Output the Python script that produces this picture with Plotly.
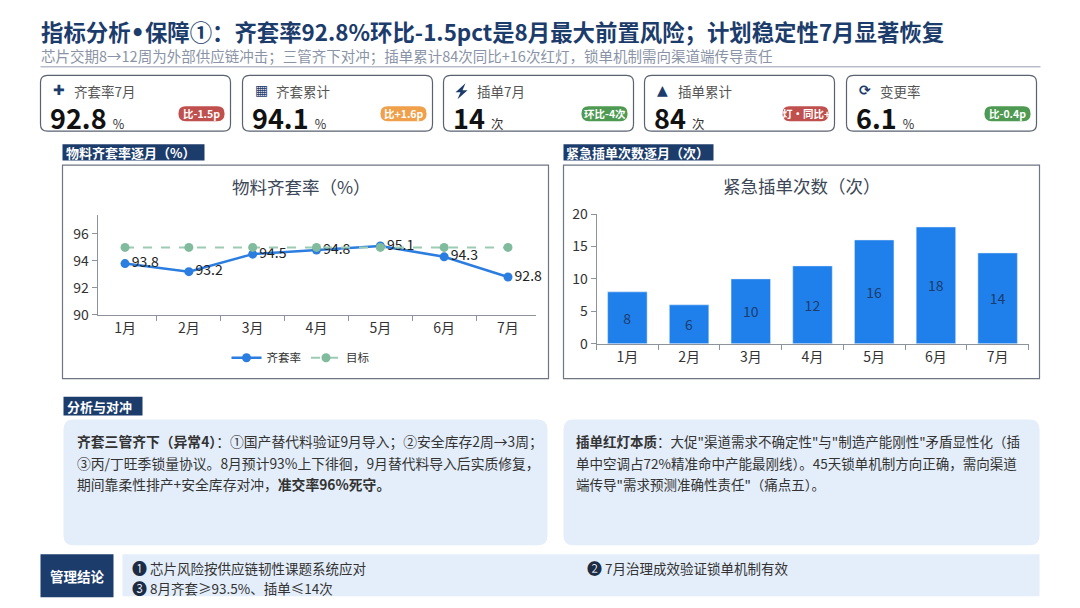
import plotly.graph_objects as go

W, H = 1080, 608

months = ["1月", "2月", "3月", "4月", "5月", "6月", "7月"]
kitting_rate = [93.8, 93.2, 94.5, 94.8, 95.1, 94.3, 92.8]
kitting_target = [95, 95, 95, 95, 95, 95, 95]
rush_orders = [8, 6, 10, 12, 16, 18, 14]

kpi_labels = ["齐套率7月", "齐套累计", "插单7月", "插单累计", "变更率"]
kpi_values = ["92.8", "94.1", "14", "84", "6.1"]
kpi_units = ["%", "%", "次", "次", "%"]
kpi_badges = ["比-1.5p", "比+1.6p", "环比-4次", "灯•同比+", "比-0.4p"]
kpi_icons = ["✚", "▦", "", "▲", "⟳"]

left_note = [
    "<b>齐套三管齐下（异常4）</b>：①国产替代料验证9月导入；②安全库存2周→3周；",
    "③丙/丁旺季锁量协议。8月预计93%上下徘徊，9月替代料导入后实质修复，",
    "期间靠柔性排产+安全库存对冲，<b>准交率96%死守。</b>",
]
right_note = [
    "<b>插单红灯本质</b>：大促\"渠道需求不确定性\"与\"制造产能刚性\"矛盾显性化（插",
    "单中空调占72%精准命中产能最刚线）。45天锁单机制方向正确，需向渠道",
    "端传导\"需求预测准确性责任\"（痛点五）。",
]

NAVY = "#1c3c6c"
FONT = "Noto Sans CJK SC"
badge_colors = ["#c0504d", "#f0a04b", "#4e9a52", "#c0504d", "#4e9a52"]


# pixel positions below are where things should land in the photo;
# the page is photographed a bit shifted, so map them back here
def px(x):
    return min(max((x - 7.5) / W, 0), 1)


def py(y):
    return min(max(1 - (y - 17.6) / 0.969 / H, 0), 1)


def poly(points):
    s = "M " + " L ".join(f"{px(x)},{py(y)}" for x, y in points) + " Z"
    return s


def rrect(x0, y0, x1, y1, r):
    pts = [
        f"M {px(x0 + r)},{py(y0)}",
        f"L {px(x1 - r)},{py(y0)}",
        f"Q {px(x1)},{py(y0)} {px(x1)},{py(y0 + r)}",
        f"L {px(x1)},{py(y1 - r)}",
        f"Q {px(x1)},{py(y1)} {px(x1 - r)},{py(y1)}",
        f"L {px(x0 + r)},{py(y1)}",
        f"Q {px(x0)},{py(y1)} {px(x0)},{py(y1 - r)}",
        f"L {px(x0)},{py(y0 + r)}",
        f"Q {px(x0)},{py(y0)} {px(x0 + r)},{py(y0)}",
        "Z",
    ]
    return " ".join(pts)


shapes = []
annos = []


def text(x, y, s, size=13, color="#333", xanchor="left", bold=False, family=FONT):
    if bold:
        s = f"<b>{s}</b>"
    annos.append(dict(x=px(x), y=py(y), xref="paper", yref="paper", text=s,
                      showarrow=False, xanchor=xanchor, yanchor="middle", align="left",
                      font=dict(size=size, color=color, family=family)))


def rect(x0, y0, x1, y1, fill, line=None, lw=1, r=0):
    ln = dict(color=line or fill, width=lw if line else 0)
    if r:
        shapes.append(dict(type="path", path=rrect(x0, y0, x1, y1, r), xref="paper", yref="paper",
                           fillcolor=fill, line=ln, layer="below"))
    else:
        shapes.append(dict(type="rect", x0=px(x0), y0=py(y0), x1=px(x1), y1=py(y1), xref="paper", yref="paper",
                           fillcolor=fill, line=ln, layer="below"))


# header
text(38, 30, "指标分析<span style='font-family:DejaVu Sans'>•</span>保障①：齐套率92.8%环比-1.5pct是8月最大前置风险；计划稳定性7月显著恢复",
     22.4, NAVY, bold=True)
text(38, 54, "芯片交期8→12周为外部供应链冲击；三管齐下对冲；插单累计84次同比+16次红灯，锁单机制需向渠道端传导责任", 14.5, "#8a94a6")
shapes.append(dict(type="line", x0=px(40), x1=px(1040), y0=py(65.5), y1=py(65.5), xref="paper", yref="paper",
                   line=dict(color="#b8bec8", width=1.5)))

# KPI cards
card_x = [40, 242, 443, 644, 846]
for i, x0 in enumerate(card_x):
    x1 = x0 + 190
    rect(x0, 74, x1, 130, "white", "#5a6270", 1.2, r=7)
    if kpi_icons[i]:
        text(x0 + 10, 89, kpi_icons[i], 14, NAVY, bold=True, family="DejaVu Sans")
    else:
        # lightning bolt
        cx, cy = x0 + 18, 90
        shapes.append(dict(type="path", xref="paper", yref="paper", fillcolor=NAVY, line=dict(width=0),
                           path=poly([(cx + 4, cy - 8), (cx - 6, cy + 1), (cx - 1, cy + 1), (cx - 4, cy + 8),
                                      (cx + 6, cy - 1), (cx + 1, cy - 1)])))
    text(x0 + 31, 89.5, kpi_labels[i], 13.5, "#555")
    annos.append(dict(x=px(x0 + 7), y=py(116.5), xref="paper", yref="paper", showarrow=False,
                      xanchor="left", yanchor="middle",
                      text=f"<b>{kpi_values[i]}</b> <span style='font-size:12.5px;color:#333'>{kpi_units[i]}</span>",
                      font=dict(size=27, color="#111", family=FONT)))
    rect(x1 - 52, 105, x1 - 6, 120, badge_colors[i], r=7)
    text(x1 - 29, 112.5, kpi_badges[i], 10.5, "white", xanchor="center", bold=True)

# section labels
rect(62, 143, 204, 159.5, NAVY)
text(63, 151.5, "物料齐套率逐月（%）", 13, "white", bold=True)
rect(563, 143, 713, 159.5, NAVY)
text(564, 151.5, "紧急插单次数逐月（次）", 13, "white", bold=True)

# chart panels
rect(62, 164, 548, 378, "white", "#6e7682", 1.2)
rect(563, 164, 1039, 378, "white", "#6e7682", 1.2)
text(301, 185, "物料齐套率（%）", 17.5, "#3b4656", xanchor="center")
text(801, 184, "紧急插单次数（次）", 17.5, "#3b4656", xanchor="center")

# analysis
rect(63, 396, 142, 415, NAVY)
text(64, 405.5, "分析与对冲", 13, "white", bold=True)
rect(63, 419, 547, 545, "#e4eefa", r=10)
rect(563, 419, 1039, 545, "#e4eefa", r=10)
for k, line in enumerate(left_note):
    text(74, 440 + 22 * k, line, 13.8, "#333")
for k, line in enumerate(right_note):
    text(573, 440 + 22 * k, line, 13.5, "#333")

# conclusion bar
rect(40, 554, 113, 597, NAVY)
text(76.5, 576, "管理结论", 13.5, "white", xanchor="center", bold=True)
rect(122, 554, 1039, 596, "#e4eefa")
text(129, 567, "<span style='color:#1c2c44;font-size:15px'>❶</span> 芯片风险按供应链韧性课题系统应对", 13.5, "#333")
text(129, 587, "<span style='color:#1c2c44;font-size:15px'>❸</span> 8月齐套≥93.5%、插单≤14次", 13.5, "#333")
text(584, 567, "<span style='color:#1c2c44;font-size:15px'>❷</span> 7月治理成效验证锁单机制有效", 13.5, "#333")

fig = go.Figure()
fig.add_trace(go.Scatter(x=months, y=kitting_rate, name="齐套率", mode="lines+markers+text",
                         text=[f"{v:.1f}" for v in kitting_rate], textposition="middle right",
                         textfont=dict(size=14, color="#222", family=FONT), cliponaxis=False,
                         line=dict(color="#2b7de0", width=2.5), marker=dict(size=9, color="#2b7de0"),
                         xaxis="x", yaxis="y"))
fig.add_trace(go.Scatter(x=months, y=kitting_target, name="目标", mode="lines+markers",
                         line=dict(color="#9ccbb3", width=2, dash="dash"), cliponaxis=False,
                         marker=dict(size=9, color="#7fbb9c"), xaxis="x", yaxis="y"))
fig.add_trace(go.Bar(x=months, y=rush_orders, text=rush_orders, textposition="inside",
                     insidetextanchor="middle", textfont=dict(size=14, color=NAVY, family=FONT),
                     marker=dict(color="#1f80ec"), width=0.64, showlegend=False,
                     xaxis="x2", yaxis="y2"))

axis_common = dict(showgrid=False, zeroline=False, showline=True, linecolor="#8c939c", linewidth=1,
                   ticks="outside", tickcolor="#8c939c", ticklen=5,
                   tickfont=dict(size=14, color="#333", family=FONT))

fig.update_layout(
    width=W, height=H, margin=dict(l=0, r=0, t=0, b=0),
    paper_bgcolor="white", plot_bgcolor="rgba(0,0,0,0)",
    font=dict(family=FONT),
    shapes=shapes, annotations=annos,
    xaxis=dict(domain=[px(97), px(535)], anchor="y", tickson="boundaries", **axis_common),
    yaxis=dict(domain=[py(314), py(214)], anchor="x", range=[90, 97.4], tickvals=[90, 92, 94, 96], **axis_common),
    xaxis2=dict(domain=[px(596), px(1028)], anchor="y2", tickson="boundaries", **axis_common),
    yaxis2=dict(domain=[py(343), py(213)], anchor="x2", range=[0, 20], tickvals=[0, 5, 10, 15, 20], **axis_common),
    legend=dict(orientation="h", x=px(300), xanchor="center", y=py(357), yanchor="middle",
                font=dict(size=11.5, color="#333", family=FONT), bgcolor="rgba(0,0,0,0)"),
    showlegend=True,
)

fig.write_html("out.html")
